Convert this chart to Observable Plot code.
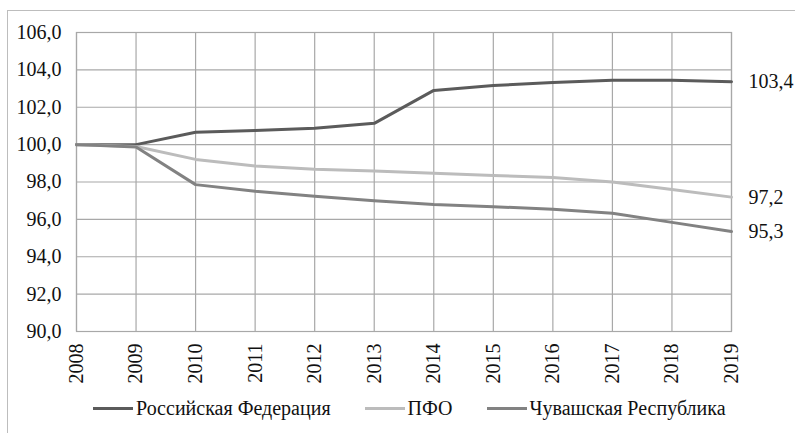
<!DOCTYPE html>
<html>
<head>
<meta charset="utf-8">
<script src="https://cdn.jsdelivr.net/npm/d3@7"></script>
<script src="https://cdn.jsdelivr.net/npm/@observablehq/plot@0.6"></script>
<style>
  html, body { margin: 0; padding: 0; background: #fff; }
  #wrap { position: relative; width: 795px; height: 433px; overflow: hidden; font-family: "Liberation Serif", "DejaVu Serif", serif; }
  #frame { position: absolute; left: 7px; top: 10px; width: 800px; height: 440px; border-top: 1.5px solid #bdbdbd; border-left: 1.5px solid #bdbdbd; pointer-events: none; }
  #chart { position: absolute; left: 0; top: 0; }
  #legend { position: absolute; left: 93px; top: 396px; display: flex; align-items: center; font-size: 20px; line-height: 24px; color: #111; white-space: nowrap; }
  .item { display: flex; align-items: center; margin-right: 34px; }
  .sw { width: 40px; height: 3px; margin-right: 3px; }
</style>
</head>
<body>
<div id="wrap">
  <div id="frame"></div>
  <div id="chart"></div>
  <div id="legend"></div>
</div>
<script>
const years = [2008, 2009, 2010, 2011, 2012, 2013, 2014, 2015, 2016, 2017, 2018, 2019];
const seriesNames = ["Российская Федерация", "ПФО", "Чувашская Республика"];
const rf    = [100.0, 100.0, 100.66, 100.75, 100.87, 101.14, 102.9, 103.16, 103.33, 103.44, 103.44, 103.36];
const pfo   = [100.0, 99.9, 99.21, 98.86, 98.68, 98.59, 98.47, 98.35, 98.24, 98.0, 97.6, 97.19];
const chuv  = [100.0, 99.87, 97.86, 97.5, 97.24, 97.0, 96.8, 96.68, 96.54, 96.33, 95.84, 95.35];
const endLabels = ["103,4", "97,2", "95,3"];
const yTicks = [90, 92, 94, 96, 98, 100, 102, 104, 106];
const colors = ["#5b5b5b", "#bcbcbc", "#828282"];

const allValues = [rf, pfo, chuv];
const data = [];
seriesNames.forEach((s, i) => years.forEach((y, j) => data.push({series: s, year: y, value: allValues[i][j]})));
const last = seriesNames.map((s, i) => ({series: s, year: years[years.length - 1], value: allValues[i][years.length - 1], label: endLabels[i]}));

const fmt = d => d.toFixed(1).replace(".", ",");
const serif = "'Liberation Serif', 'DejaVu Serif', serif";

const chart = Plot.plot({
  width: 795,
  height: 390,
  marginLeft: 76,
  marginRight: 64,
  marginTop: 32,
  marginBottom: 59,
  style: { fontFamily: serif, fontSize: "20px", color: "#111", background: "transparent", overflow: "visible" },
  x: { type: "linear", domain: [2008, 2019], ticks: years, tickFormat: d => String(d), label: null },
  y: { domain: [90, 106], ticks: yTicks, tickFormat: fmt, label: null },
  color: { domain: seriesNames, range: colors },
  marks: [
    Plot.gridX(years, { stroke: "#a8a8a8", strokeOpacity: 1, strokeWidth: 1.2 }),
    Plot.gridY(yTicks, { stroke: "#a8a8a8", strokeOpacity: 1, strokeWidth: 1.2 }),
    Plot.frame({ stroke: "#a8a8a8", strokeWidth: 1.2 }),
    Plot.axisY(yTicks, { tickSize: 0, tickPadding: 15, tickFormat: fmt, fontSize: 20, fontFamily: serif, label: null }),
    Plot.axisX(years, { tickSize: 0, tickPadding: 12, tickRotate: -90, tickFormat: d => String(d), fontSize: 20, fontFamily: serif, label: null }),
    Plot.line(data, { x: "year", y: "value", z: "series", stroke: "series", strokeWidth: 3, curve: "linear" }),
    Plot.text(last, { x: "year", y: "value", text: "label", dx: 17, textAnchor: "start", fontSize: 20, fontFamily: serif, fill: "#111" })
  ]
});
document.getElementById("chart").appendChild(chart);

const legend = document.getElementById("legend");
seriesNames.forEach((s, i) => {
  const item = document.createElement("div");
  item.className = "item";
  const sw = document.createElement("div");
  sw.className = "sw";
  sw.style.background = colors[i];
  const t = document.createElement("span");
  t.textContent = s;
  item.appendChild(sw);
  item.appendChild(t);
  legend.appendChild(item);
});
</script>
</body>
</html>
